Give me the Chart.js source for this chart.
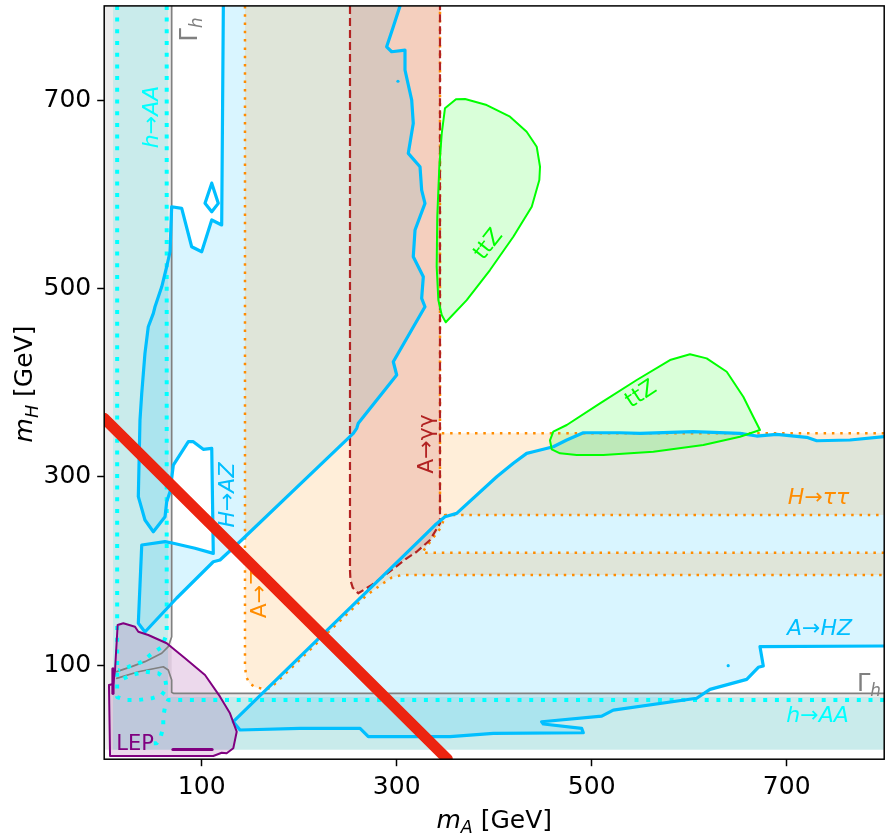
<!DOCTYPE html>
<html>
<head>
<meta charset="utf-8">
<script src="https://cdn.jsdelivr.net/npm/chart.js@4.4.1/dist/chart.umd.min.js"></script>
<style>
  html, body { margin: 0; padding: 0; background: #fff; }
</style>
</head>
<body>
<canvas id="massPlane" width="891" height="836"></canvas>
<script>
// m_A (x) vs m_H (y), both in GeV
const xTicks = [100, 300, 500, 700];
const yTicks = [100, 300, 500, 700];

// Gamma_h exclusion (gray) and h->AA band (cyan)
const gammaArea = [[0.8, 10], [0.8, 800], [69.2, 800], [69.2, 70], [800, 70], [800, 10]];
const gammaLineA = [[69.2, 800], [69.2, 130], [65.7, 119.5], [59, 112.5], [41.8, 103.6], [28.1, 98.3], [12.8, 93]];
const gammaLineB = [[12.8, 85.9], [35, 92.9], [60.6, 98.2], [65.7, 94.7], [69.2, 84.1], [69.2, 71], [70.9, 70], [800, 70]];
const haaArea = [[9, 10], [9, 800], [65.5, 800], [65.5, 66], [800, 66], [800, 10]];
const haaDotLeft = [[13.3, 800], [13.3, 66], [21.3, 62.9], [35, 62.9], [48.7, 64.7], [59, 68.2], [64.1, 75.3], [62.4, 85.9], [55.5, 91.2], [41.8, 92.9], [28.2, 89.4], [16.2, 84.1]];
const haaDotRight = [[64.1, 800], [64.1, 133], [59, 119], [48.7, 112], [38.5, 103.3], [24.8, 98], [14.5, 94.3]];
const haaDotBottom = [[800, 62.9], [65.7, 62.9], [62.4, 55.8], [60.6, 45.1], [60.6, 34.5], [58, 23.9], [53.8, 16.9], [45.2, 16.9]];

// H->AZ contour (blue)
const hazContour = [
  [122.2, 800], [120.5, 567.3], [110.3, 572.6], [100, 538.9], [89.7, 544.2], [79.5, 585], [69.2, 586.7],
  [67.5, 538.9], [64.1, 523], [59, 501.7], [52.1, 480.5], [50.4, 473.5], [45.2, 459.3], [41.8, 431],
  [38.5, 388.5], [36.7, 360.2], [35, 278.8], [41.8, 254], [50.4, 241.6], [62.4, 257.5], [64.1, 273.4],
  [67.5, 284.1], [70.9, 312.4], [86.3, 337.2], [91.4, 337.2], [101.6, 329.1], [110.3, 330.1], [111.9, 218.6],
  [93.1, 224], [70.9, 229.3], [62.4, 231], [38.5, 227.5], [35, 144.3], [41.8, 135.1], [74.4, 171.2],
  [111.9, 209.7], [118.8, 211.5], [141, 232.8], [255.5, 346.1], [259, 351.4], [260.6, 356.7], [300, 408],
  [296.5, 422.1], [329, 480.5], [325.6, 489.4], [327.3, 512.4], [317, 533.6], [318.8, 562], [329, 590.3],
  [325.6, 604.4], [323.9, 629.2], [311.9, 643.4], [317, 675.3], [315.4, 700], [308.5, 731.9], [308.5, 753.1],
  [294.9, 751.3], [289.7, 756.6], [296.5, 777.8], [303.4, 800]
];
const hazIsland = [[110.3, 611.7], [117, 590.3], [110.3, 581.4], [103.4, 590.3], [110.3, 611.7]];

// A->HZ contour (blue)
const ahzContour = [
  [800, 342.5], [764.9, 339], [730.8, 338.2], [720.5, 341.8], [689.7, 345], [669.2, 343.2], [652.1, 346.1],
  [604.2, 347.8], [549.5, 346.1], [529, 346.7], [491.4, 346.7], [474.4, 339], [460.6, 331.8], [440.1, 326.5],
  [433.3, 324.8], [419.6, 314.2], [402.6, 300], [361.5, 261.1], [349.5, 257.5], [339.3, 248.7], [323.9, 232.8],
  [260.6, 169.1], [132.4, 39.8], [139.3, 31], [200.8, 32.8], [262.4, 32.8], [270.9, 23.9], [354.7, 23.9],
  [399.1, 27.5], [491.4, 28.1], [489.7, 32.8], [450.4, 37.4], [448.7, 39.8], [510.3, 45.8], [522.1, 52.2],
  [607.7, 64.7], [621.3, 74.2], [659, 84.8], [670.9, 97.6], [676, 99], [672.6, 119.5], [800, 120.2]
];
const blueDots = [[301.3, 720], [640, 99.3]];

// A->Zh band plus H->tautau bands (orange)
const orangeArea = [
  [144.4, 800], [144.4, 100], [145.5, 88], [149, 80.5], [155, 76.5], [162, 75], [170, 75], [269, 174],
  [285, 186], [295, 193], [305, 195.6], [800, 195.6], [800, 219.3], [326, 219.3], [346, 247], [349.5, 259.3],
  [800, 259.3], [800, 346.1], [344.4, 346.1], [344.4, 800]
];
const orangeEdge = [
  [144.4, 800], [144.4, 100], [145.5, 88], [149, 80.5], [155, 76.5], [162, 75], [170, 75], [269, 174],
  [285, 186], [295, 193], [305, 195.6], [800, 195.6], null,
  [800, 219.3], [326, 219.3], [346, 247], [349.5, 259.3], [800, 259.3], null,
  [800, 346.1], [344.4, 346.1], [344.4, 800], null,
  [344.4, 346.1], [344.4, 265], [349.5, 259.3]
];

// A->gamma gamma (firebrick)
const aggArea = [
  [252.1, 800], [252.1, 200], [252.6, 190], [255, 182], [260.6, 176.2], [274.4, 185], [295, 201],
  [310.3, 213.3], [320.5, 220.3], [334.2, 232.8], [344.4, 250.5], [344.4, 800]
];

// ttZ islands (green)
const ttzUpper = [
  [360.8, 700.9], [349.5, 691.2], [346.2, 664.6], [343.7, 629.2], [341.6, 576.1], [341, 523], [342.7, 487.6],
  [346.2, 471.7], [350.3, 464], [371.8, 487.6], [395.7, 519.5], [419.6, 554.8], [438.5, 586.7], [446.3, 615.1],
  [447, 629.2], [443.6, 650.4], [433.3, 666.4], [416.2, 682.3], [392.3, 694.7], [370.1, 701.1], [360.8, 700.9]
];
const ttzRight = [
  [457.2, 338.7], [460.6, 347.8], [474.4, 354.9], [508.5, 377.9], [546.2, 402.7], [580.3, 423.9], [600.8, 430],
  [617.9, 425.7], [638.5, 411.5], [655.5, 384.9], [665.7, 363.7], [672.6, 349.6], [652.1, 342.5], [614.5, 333.7],
  [563.2, 326.5], [511.9, 323], [484.6, 323], [467.5, 324.8], [459, 329.1], [457.2, 338.7]
];

// LEP (purple)
const lepArea = [
  [13.8, 142.5], [19.6, 144.3], [31.6, 140.7], [35, 135.4], [45.2, 131.9], [64.1, 123.1], [82.9, 107.1],
  [103.4, 89.4], [118.8, 66.4], [129, 48.7], [135.9, 29.2], [132.4, 11.6], [125.6, 6.3], [120.5, 6.9],
  [111.9, 3.4], [6, 3.4], [4.9, 78.8], [9.3, 79.9], [11.1, 94.7], [13.8, 142.5]
];
const lepBarV = [[9, 70], [9, 96]];
const lepBarH = [[70.5, 10.3], [110.6, 10.3]];

// red band
const redBand = [[0, 362], [352, 0]];

const SKY = '#00bfff', ORANGE = '#ff8c00', BRICK = '#b22222', LIME = '#00ff00', PURPLE = '#800080', CYAN = '#00ffff', GRAY = '#808080';

const labelSpecs = [
  { parts: [['h', 'i'], ['→', 'r'], ['AA', 'i']], at: [47.1, 682], rot: -90, color: CYAN, size: 22 },
  { parts: [['Γ', 'r'], ['h', 'si']], at: [86, 775], rot: -90, color: GRAY, size: 24 },
  { parts: [['H', 'i'], ['→', 'r'], ['AZ', 'i']], at: [124.5, 280.5], rot: -90, color: SKY, size: 22 },
  { parts: [['A→γγ', 'r']], at: [329.5, 334.7], rot: -90, color: BRICK, size: 22 },
  { parts: [['A→Z', 'r']], at: [158.3, 175.4], rot: -90, color: ORANGE, size: 22 },
  { parts: [['ttZ', 'r']], at: [392.6, 548], rot: -52, color: LIME, size: 22 },
  { parts: [['ttZ', 'r']], at: [549.6, 389.2], rot: -33, color: LIME, size: 22 },
  { parts: [['H', 'i'], ['→', 'r'], ['ττ', 'i']], at: [732.7, 279.5], rot: 0, color: ORANGE, size: 22 },
  { parts: [['A', 'i'], ['→', 'r'], ['HZ', 'i']], at: [733.6, 139.9], rot: 0, color: SKY, size: 22 },
  { parts: [['Γ', 'r'], ['h', 'si']], at: [784.4, 82], rot: 0, color: GRAY, size: 24 },
  { parts: [['h', 'i'], ['→', 'r'], ['AA', 'i']], at: [731.6, 48], rot: 0, color: CYAN, size: 22 },
  { parts: [['LEP', 'r']], at: [31.6, 18.3], rot: 0, color: PURPLE, size: 21 }
];

const toPts = arr => arr.map(p => p ? { x: p[0], y: p[1] } : { x: null, y: null });

// the 'shape' fill clips to the x-range between first and last point,
// so start the ring at its leftmost vertex and end on a zero-area spike to the rightmost x
function shapePts(poly) {
  let i0 = 0;
  poly.forEach((p, i) => { if (p[0] < poly[i0][0]) i0 = i; });
  const ring = poly.slice(i0).concat(poly.slice(0, i0));
  const maxX = Math.max(...poly.map(p => p[0]));
  ring.push(ring[0], [maxX, ring[0][1]]);
  return toPts(ring);
}

function area(label, poly, color) {
  return { label, data: shapePts(poly), fill: 'shape', backgroundColor: color,
           borderColor: 'rgba(0,0,0,0)', borderWidth: 0, pointRadius: 0, tension: 0 };
}

function edge(label, arr, color, width, dash) {
  return { label, data: toPts(arr), fill: false, borderColor: color, borderWidth: width,
           borderDash: dash || [], borderCapStyle: dash ? 'butt' : 'round', borderJoinStyle: 'round',
           pointRadius: 0, tension: 0 };
}

const layers = [
  area('gammaFill', gammaArea, 'rgba(128,128,128,0.15)'),
  area('haaFill', haaArea, 'rgba(0,230,230,0.15)'),
  area('hazFill', hazContour, 'rgba(0,191,255,0.15)'),
  area('ahzFill', ahzContour, 'rgba(0,191,255,0.15)'),
  area('orangeFill', orangeArea, 'rgba(255,140,0,0.15)'),
  area('aggFill', aggArea, 'rgba(178,34,34,0.15)'),
  area('ttzUpperFill', ttzUpper, 'rgba(0,255,0,0.15)'),
  area('ttzRightFill', ttzRight, 'rgba(0,255,0,0.15)'),
  area('lepFill', lepArea, 'rgba(128,0,128,0.15)'),
  edge('gammaA', gammaLineA, GRAY, 1.7),
  edge('gammaB', gammaLineB, GRAY, 1.7),
  edge('haaLeft', haaDotLeft, CYAN, 4, [4, 7.7]),
  edge('haaRight', haaDotRight, CYAN, 4, [4, 7.7]),
  edge('haaBottom', haaDotBottom, CYAN, 4, [4, 7.7]),
  edge('orangeEdge', orangeEdge, ORANGE, 2.5, [2.5, 5.8]),
  edge('aggEdge', aggArea, BRICK, 2.2, [8, 4]),
  edge('hazEdge', hazContour, SKY, 3.2),
  edge('hazIsland', hazIsland, SKY, 3.2),
  edge('ahzEdge', ahzContour, SKY, 3.2),
  { label: 'dots', data: toPts(blueDots), showLine: false, pointRadius: 1.6, pointBackgroundColor: SKY, pointBorderWidth: 0 },
  edge('ttzUpperEdge', ttzUpper, LIME, 2),
  edge('ttzRightEdge', ttzRight, LIME, 2),
  edge('lepEdge', lepArea, PURPLE, 2),
  edge('lepBarV', lepBarV, PURPLE, 3.2),
  edge('lepBarH', lepBarH, PURPLE, 3.2),
  edge('red', redBand, '#ec2410', 11)
];
// first in the list is drawn lowest
layers.forEach((d, i) => { d.order = layers.length - i; });

function drawRich(ctx, parts, x, y, size, color, angle) {
  ctx.save();
  ctx.translate(x, y);
  ctx.rotate(angle * Math.PI / 180);
  ctx.fillStyle = color;
  ctx.textBaseline = 'alphabetic';
  const fontFor = st => (st.includes('i') ? 'italic ' : '') + (st.includes('s') ? size * 0.7 : size) + 'px "DejaVu Sans"';
  let total = 0;
  const widths = parts.map(([t, st]) => { ctx.font = fontFor(st); const w = ctx.measureText(t).width; total += w; return w; });
  let cx = -total / 2;
  const base = size * 0.36;
  parts.forEach(([t, st], i) => {
    ctx.font = fontFor(st);
    ctx.fillText(t, cx, base + (st.includes('s') ? size * 0.22 : 0));
    cx += widths[i];
  });
  ctx.restore();
}

const annotate = {
  id: 'annotate',
  beforeDatasetDraw(chart, args) {
    if (chart.data.datasets[args.index].label !== 'red') return;
    const { ctx, scales: { x, y } } = chart;
    labelSpecs.forEach(l => {
      drawRich(ctx, l.parts, x.getPixelForValue(l.at[0]), y.getPixelForValue(l.at[1]), l.size, l.color, l.rot);
    });
  },
  afterDatasetsDraw(chart) {
    const { ctx, chartArea: a } = chart;
    ctx.save();
    ctx.strokeStyle = '#000';
    ctx.lineWidth = 1.5;
    ctx.strokeRect(a.left, a.top, a.right - a.left, a.bottom - a.top);
    ctx.restore();
  },
  afterDraw(chart) {
    const { ctx, chartArea: a } = chart;
    drawRich(ctx, [['m', 'i'], ['A', 'si'], [' [GeV]', 'r']], (a.left + a.right) / 2, 818.5, 25, '#000', 0);
    drawRich(ctx, [['m', 'i'], ['H', 'si'], [' [GeV]', 'r']], 23, 384, 25, '#000', -90);
  }
};

function axis(ticks, fit) {
  return {
    type: 'linear', min: 0, max: 800,
    afterBuildTicks: s => { s.ticks = ticks.map(v => ({ value: v })); },
    afterFit: s => { fit(s); s.paddingTop = 0; s.paddingBottom = 0; s.paddingLeft = 0; s.paddingRight = 0; },
    ticks: { color: '#000', font: { family: 'DejaVu Sans', size: 25 }, padding: 6, autoSkip: false, maxRotation: 0 },
    grid: { drawOnChartArea: false, tickLength: 7, tickWidth: 1.5, tickColor: '#000' },
    border: { display: false }
  };
}

new Chart(document.getElementById('massPlane').getContext('2d'), {
  type: 'line',
  data: { datasets: layers },
  options: {
    responsive: false,
    animation: false,
    devicePixelRatio: 1,
    layout: { padding: { left: 0, right: 6.8, top: 5.9, bottom: 0 } },
    plugins: { legend: { display: false }, tooltip: { enabled: false } },
    scales: {
      x: axis(xTicks, s => { s.height = 76.8; }),
      y: axis(yTicks, s => { s.width = 104.2; })
    }
  },
  plugins: [annotate]
});
</script>
</body>
</html>
